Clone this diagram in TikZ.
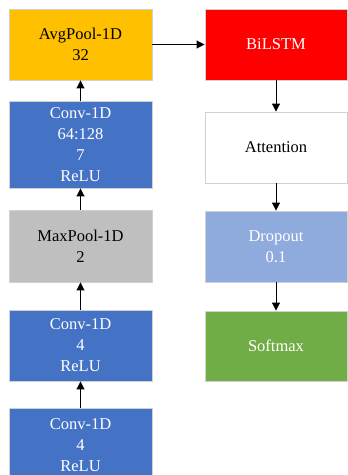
\documentclass[tikz,border=0pt]{standalone}
\usepackage{fontspec}
\setmainfont{Liberation Serif}
\usetikzlibrary{arrows.meta}
\definecolor{cyel}{HTML}{FFC000}
\definecolor{cblue}{HTML}{4472C4}
\definecolor{cgray}{HTML}{BFBFBF}
\definecolor{cred}{HTML}{FF0000}
\definecolor{clblue}{HTML}{8FAADC}
\definecolor{cgreen}{HTML}{70AD47}
\definecolor{cborder}{HTML}{D0D0D0}
\begin{document}
\begin{tikzpicture}[x=1pt,y=-1pt,
  box/.style={draw=cborder, line width=0.9pt, minimum width=143pt, inner sep=0pt,
    align=center, font=\fontsize{16.5}{21}\selectfont},
  arr/.style={-{Triangle[length=8pt,width=8pt]}, line width=1pt, black}]
\useasboundingbox (0,0) rectangle (348,475);
\clip (0,0) rectangle (348,475);
\fill[white] (0,0) rectangle (348,475);
% left column
\node[box, fill=cyel, minimum height=71pt] (avg) at (80.5,44.5) {AvgPool-1D\\32};
\node[box, fill=cblue, text=white, minimum height=87pt] (conv3) at (80.5,144.5) {Conv-1D\\64:128\\7\\ReLU};
\node[box, fill=cgray, minimum height=72pt] (maxp) at (80.5,246) {MaxPool-1D\\2};
\node[box, fill=cblue, text=white, minimum height=71pt] (conv2) at (80.5,345.5) {Conv-1D\\4\\ReLU};
\node[box, fill=cblue, text=white, minimum height=74pt] (conv1) at (80.5,445) {Conv-1D\\4\\ReLU};
% right column
\node[box, fill=cred, text=white, minimum height=71pt, minimum width=142pt] (lstm) at (276,44.5) {BiLSTM};
\node[box, fill=white, minimum height=71pt, minimum width=142pt] (att) at (276,147.5) {Attention};
\node[box, fill=clblue, text=white, minimum height=71pt, minimum width=142pt] (drop) at (276,246.5) {Dropout\\0.1};
\node[box, fill=cgreen, text=white, minimum height=70pt, minimum width=142pt] (soft) at (276,346) {Softmax};
% arrows
\draw[arr] (conv1.north) -- (conv2.south);
\draw[arr] (conv2.north) -- (maxp.south);
\draw[arr] (maxp.north) -- (conv3.south);
\draw[arr] (conv3.north) -- (avg.south);
\draw[arr] (avg.east) -- (lstm.west);
\draw[arr] (lstm.south) -- (att.north);
\draw[arr] (att.south) -- (drop.north);
\draw[arr] (drop.south) -- (soft.north);
\end{tikzpicture}
\end{document}
